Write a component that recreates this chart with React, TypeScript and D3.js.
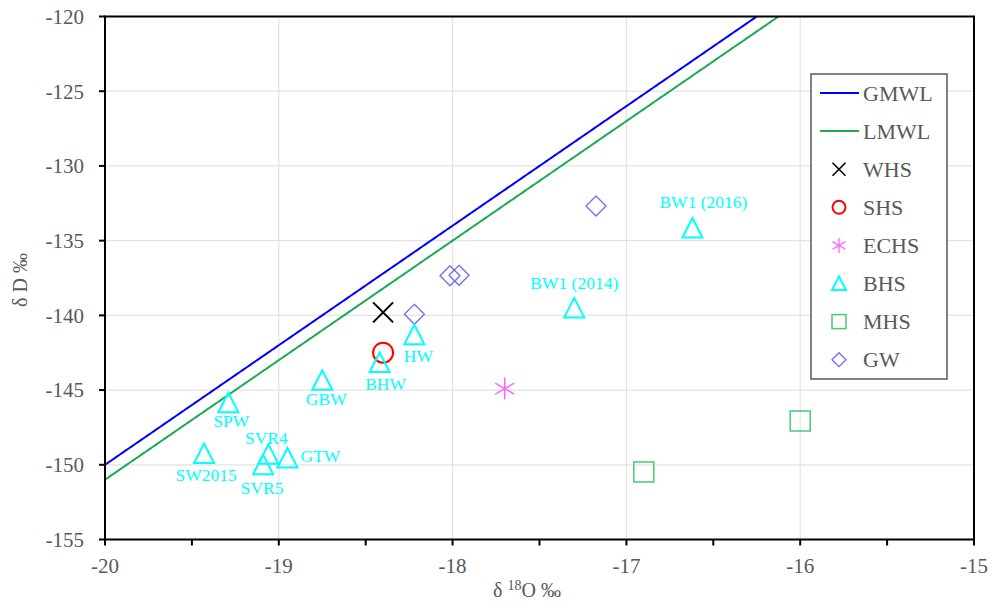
import React from "react";
import * as d3 from "d3";

const xTicks = [-20, -19, -18, -17, -16, -15];
const xMinorTicks = [-19.5, -18.5, -17.5, -16.5, -15.5];
const yTicks = [-120, -125, -130, -135, -140, -145, -150, -155];

const whs = [{ x: -18.4, y: -139.8 }];
const shs = [{ x: -18.4, y: -142.5 }];
const echs = [{ x: -17.7, y: -144.9 }];
const bhs = [
  { x: -19.29, y: -145.85, label: "SPW" },
  { x: -19.43, y: -149.25, label: "SW2015" },
  { x: -19.06, y: -149.3, label: "SVR4" },
  { x: -19.09, y: -150.0, label: "SVR5" },
  { x: -18.95, y: -149.55, label: "GTW" },
  { x: -18.75, y: -144.35, label: "GBW" },
  { x: -18.42, y: -143.15, label: "BHW" },
  { x: -18.22, y: -141.3, label: "HW" },
  { x: -17.3, y: -139.5, label: "BW1 (2014)" },
  { x: -16.62, y: -134.15, label: "BW1 (2016)" },
];
// label offsets relative to marker (dx, dy to baseline, anchor)
const bhsLabelPos: Record<string, [number, number, string]> = {
  SPW: [3, 24, "middle"],
  SW2015: [2, 27, "middle"],
  SVR4: [-2, -10, "middle"],
  SVR5: [-1, 29, "middle"],
  GTW: [13, 4, "start"],
  GBW: [4, 25, "middle"],
  BHW: [6, 28, "middle"],
  HW: [4, 27, "middle"],
  "BW1 (2014)": [0, -19, "middle"],
  "BW1 (2016)": [11, -20, "middle"],
};
const mhs = [
  { x: -16.9, y: -150.48 },
  { x: -16.0, y: -147.07 },
];
const gw = [
  { x: -18.22, y: -139.93 },
  { x: -18.015, y: -137.35 },
  { x: -17.963, y: -137.32 },
  { x: -17.175, y: -132.68 },
];
// meteoric water lines: dD = slope * d18O + intercept
const gmwl = { slope: 8, intercept: 10 };
const lmwl = { slope: 8, intercept: 9 };

const legendItems = ["GMWL", "LMWL", "WHS", "SHS", "ECHS", "BHS", "MHS", "GW"];

const C = {
  gmwl: "#0000FF",
  lmwl: "#1DAA55",
  whs: "#000000",
  shs: "#FF0000",
  echs: "#FF66FF",
  bhs: "#00FFFF",
  mhs: "#44CC77",
  gw: "#6E6EF0",
  text: "#595959",
  grid: "#E3E3E3",
};

const FONT = "'Liberation Serif', 'Times New Roman', serif";

function Marker({ type, x, y }: { type: string; x: number; y: number }) {
  switch (type) {
    case "WHS":
      return (
        <path
          d={`M${x - 10},${y - 10}L${x + 10},${y + 10}M${x - 10},${y + 10}L${x + 10},${y - 10}`}
          stroke={C.whs}
          strokeWidth={2}
        />
      );
    case "SHS":
      return <circle cx={x} cy={y} r={10} fill="none" stroke={C.shs} strokeWidth={2} />;
    case "ECHS":
      return (
        <path
          d={`M${x},${y - 11}L${x},${y + 11}M${x - 9.5},${y - 5.5}L${x + 9.5},${y + 5.5}M${x - 9.5},${y + 5.5}L${x + 9.5},${y - 5.5}`}
          stroke={C.echs}
          strokeWidth={1.5}
        />
      );
    case "BHS":
      return (
        <path
          d={`M${x},${y - 10}L${x + 10},${y + 9.5}L${x - 10},${y + 9.5}Z`}
          fill="none"
          stroke={C.bhs}
          strokeWidth={2}
        />
      );
    case "MHS":
      return (
        <rect x={x - 10} y={y - 10} width={20} height={20} fill="none" stroke={C.mhs} strokeWidth={1.5} />
      );
    case "GW":
      return (
        <path
          d={`M${x},${y - 10}L${x + 10},${y}L${x},${y + 10}L${x - 10},${y}Z`}
          fill="none"
          stroke={C.gw}
          strokeWidth={1.3}
        />
      );
    default:
      return null;
  }
}

function LegendMarker({ type, x, y }: { type: string; x: number; y: number }) {
  switch (type) {
    case "GMWL":
      return <line x1={x - 19} x2={x + 20} y1={y} y2={y} stroke={C.gmwl} strokeWidth={2} />;
    case "LMWL":
      return <line x1={x - 19} x2={x + 20} y1={y} y2={y} stroke={C.lmwl} strokeWidth={2} />;
    case "WHS":
      return (
        <path d={`M${x - 6.5},${y - 6.5}L${x + 6.5},${y + 6.5}M${x - 6.5},${y + 6.5}L${x + 6.5},${y - 6.5}`} stroke={C.whs} strokeWidth={1.6} />
      );
    case "SHS":
      return <circle cx={x} cy={y} r={6.5} fill="none" stroke={C.shs} strokeWidth={2} />;
    case "ECHS":
      return (
        <path
          d={`M${x},${y - 7.5}L${x},${y + 7.5}M${x - 6.5},${y - 3.8}L${x + 6.5},${y + 3.8}M${x - 6.5},${y + 3.8}L${x + 6.5},${y - 3.8}`}
          stroke={C.echs}
          strokeWidth={1.3}
        />
      );
    case "BHS":
      return <path d={`M${x},${y - 7}L${x + 7},${y + 6.5}L${x - 7},${y + 6.5}Z`} fill="none" stroke={C.bhs} strokeWidth={2} />;
    case "MHS":
      return <rect x={x - 7} y={y - 7} width={14} height={14} fill="none" stroke={C.mhs} strokeWidth={1.5} />;
    case "GW":
      return <path d={`M${x},${y - 7}L${x + 7},${y}L${x},${y + 7}L${x - 7},${y}Z`} fill="none" stroke={C.gw} strokeWidth={1.3} />;
    default:
      return null;
  }
}

export default function App() {
  const W = 992;
  const H = 610;
  const left = 105;
  const right = 974;
  const top = 16.5;
  const bottom = 539.5;

  const x = d3.scaleLinear().domain([-20, -15]).range([left, right]);
  const y = d3.scaleLinear().domain([-155, -120]).range([bottom, top]);

  const lineFor = (m: { slope: number; intercept: number }) => {
    const xs = d3.range(-20, -15.999, 0.01);
    const pts = xs.map((v) => [v, m.slope * v + m.intercept] as [number, number]);
    return d3
      .line<[number, number]>()
      .x((d) => x(d[0]))
      .y((d) => y(d[1]))(pts) as string;
  };

  const legX = 811;
  const legY = 74;
  const legW = 136;
  const legH = 305;

  return (
    <svg width={W} height={H} style={{ position: "absolute", left: 0, top: 0, background: "#fff" }} fontFamily={FONT}>
      <defs>
        <clipPath id="plotClip">
          <rect x={left} y={top} width={right - left} height={bottom - top} />
        </clipPath>
      </defs>
      <rect x={0} y={0} width={W} height={H} fill="#fff" />
      {/* gridlines */}
      {yTicks
        .filter((t) => t !== -120 && t !== -155)
        .map((t) => (
          <line key={"gy" + t} x1={left} x2={right} y1={y(t)} y2={y(t)} stroke={C.grid} strokeWidth={1.2} />
        ))}
      {xTicks
        .filter((t) => t !== -20 && t !== -15)
        .map((t) => (
          <line key={"gx" + t} x1={x(t)} x2={x(t)} y1={top} y2={bottom} stroke={C.grid} strokeWidth={1.2} />
        ))}

      {/* water lines */}
      <g clipPath="url(#plotClip)">
        <path d={lineFor(gmwl)} fill="none" stroke={C.gmwl} strokeWidth={2} />
        <path d={lineFor(lmwl)} fill="none" stroke={C.lmwl} strokeWidth={2} />
      </g>

      {/* frame */}
      <rect x={left} y={top} width={right - left} height={bottom - top} fill="none" stroke="#000" strokeWidth={2} />

      {/* y ticks */}
      {yTicks.map((t) => (
        <g key={"yt" + t}>
          <line x1={left - 6} x2={left} y1={y(t)} y2={y(t)} stroke="#000" strokeWidth={2} />
          <text x={84} y={y(t)} dy="0.35em" textAnchor="end" fontSize={21} fill={C.text}>
            {t}
          </text>
        </g>
      ))}
      {/* x ticks */}
      {xTicks.concat(xMinorTicks).map((t) => (
        <line key={"xt" + t} x1={x(t)} x2={x(t)} y1={bottom} y2={bottom + 6} stroke="#000" strokeWidth={2} />
      ))}
      {xTicks.map((t) => (
        <text key={"xl" + t} x={x(t)} y={573} textAnchor="middle" fontSize={21} fill={C.text}>
          {t}
        </text>
      ))}

      {/* axis titles */}
      <text transform="translate(27,280) rotate(-90)" textAnchor="middle" fontSize={20} fill={C.text}>
        δ D ‰
      </text>
      <text x={527} y={597} textAnchor="middle" fontSize={20} fill={C.text}>
        δ <tspan fontSize={14} dy={-7}>18</tspan>
        <tspan dy={7}>O ‰</tspan>
      </text>

      {/* points */}
      {mhs.map((d, i) => (
        <Marker key={"m" + i} type="MHS" x={x(d.x)} y={y(d.y)} />
      ))}
      {gw.map((d, i) => (
        <Marker key={"g" + i} type="GW" x={x(d.x)} y={y(d.y)} />
      ))}
      {whs.map((d, i) => (
        <Marker key={"w" + i} type="WHS" x={x(d.x)} y={y(d.y)} />
      ))}
      {shs.map((d, i) => (
        <Marker key={"s" + i} type="SHS" x={x(d.x)} y={y(d.y)} />
      ))}
      {echs.map((d, i) => (
        <Marker key={"e" + i} type="ECHS" x={x(d.x)} y={y(d.y)} />
      ))}
      {bhs.map((d, i) => (
        <Marker key={"b" + i} type="BHS" x={x(d.x)} y={y(d.y)} />
      ))}
      {bhs.map((d, i) => {
        const p = bhsLabelPos[d.label];
        return (
          <text
            key={"bl" + i}
            x={x(d.x) + p[0]}
            y={y(d.y) + p[1]}
            textAnchor={p[2] as any}
            fontSize={17.5}
            fill={C.bhs}
          >
            {d.label}
          </text>
        );
      })}

      {/* legend */}
      <rect x={legX} y={legY} width={legW} height={legH} fill="#fff" stroke={C.text} strokeWidth={1.5} />
      {legendItems.map((name, i) => {
        const cy = 93 + i * 38.1;
        return (
          <g key={"lg" + name}>
            <LegendMarker type={name} x={839} y={cy} />
            <text x={863} y={cy} dy="0.35em" fontSize={22} fill={C.text}>
              {name}
            </text>
          </g>
        );
      })}
    </svg>
  );
}
